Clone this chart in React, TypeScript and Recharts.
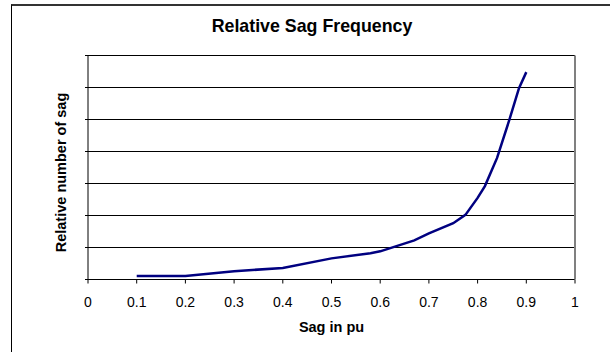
import React from 'react';
import { LineChart, Line, XAxis, YAxis, CartesianGrid } from 'recharts';

const sagPu = [0.1, 0.2, 0.3, 0.4, 0.5, 0.58, 0.6, 0.67, 0.7, 0.75, 0.775, 0.8, 0.815, 0.84, 0.865, 0.885, 0.9];
const relativeCount = [0.11, 0.11, 0.26, 0.36, 0.66, 0.82, 0.88, 1.22, 1.44, 1.76, 2.02, 2.55, 2.92, 3.8, 4.98, 5.98, 6.48];
const xTicks = [0, 0.1, 0.2, 0.3, 0.4, 0.5, 0.6, 0.7, 0.8, 0.9, 1];
const yTicks = [0, 1, 2, 3, 4, 5, 6, 7];
const title = 'Relative Sag Frequency';
const xTitle = 'Sag in pu';
const yTitle = 'Relative number of sag';

const data = sagPu.map((x, i) => ({ x, y: relativeCount[i] }));
const FONT = '"Liberation Sans", Arial, sans-serif';

export default function App() {
  return (
    <div style={{ position: 'absolute', left: 0, top: 0, width: 610, height: 352, background: '#fff', overflow: 'hidden' }}>
      <div style={{ position: 'absolute', left: 11, top: 4, width: 620, height: 360, borderLeft: '1px solid #000', borderTop: '2px solid #333' }} />
      <div style={{ position: 'absolute', left: 0, top: 0 }}>
        <LineChart width={610} height={352} data={data} margin={{ top: 54.5, right: 34, bottom: 32.5, left: 87 }}>
          <CartesianGrid vertical={false} stroke="#000" strokeWidth={1} yAxisId="left" />
          <XAxis
            dataKey="x"
            type="number"
            domain={[0, 1]}
            ticks={xTicks}
            height={40}
            tickSize={4}
            tickMargin={13.5}
            axisLine={{ stroke: '#000' }}
            tickLine={{ stroke: '#000' }}
            tick={{ fill: '#000', fontSize: 14, fontFamily: FONT }}
            interval={0}
          />
          <XAxis
            xAxisId="top"
            orientation="top"
            dataKey="x"
            type="number"
            domain={[0, 1]}
            height={1}
            axisLine={{ stroke: '#000' }}
            tickLine={false}
            tick={false}
          />
          <YAxis
            yAxisId="left"
            type="number"
            domain={[0, 7]}
            ticks={yTicks}
            width={1}
            tickSize={3}
            axisLine={{ stroke: '#000' }}
            tickLine={{ stroke: '#000' }}
            tick={() => <g />}
            interval={0}
          />
          <YAxis
            yAxisId="right"
            orientation="right"
            type="number"
            domain={[0, 7]}
            width={1}
            axisLine={{ stroke: '#808080', strokeWidth: 2 }}
            tickLine={false}
            tick={false}
          />
          <Line yAxisId="left" type="linear" dataKey="y" stroke="#000080" strokeWidth={2.5} dot={false} isAnimationActive={false} />
        </LineChart>
      </div>
      <svg width={610} height={352} style={{ position: 'absolute', left: 0, top: 0, pointerEvents: 'none' }}>
        <text x={312} y={32} textAnchor="middle" fontFamily={FONT} fontWeight="bold" fontSize={17.8} fill="#000">{title}</text>
        <text x={331.5} y={332} textAnchor="middle" fontFamily={FONT} fontWeight="bold" fontSize={14.5} fill="#000">{xTitle}</text>
        <text transform="translate(65.5,172.5) rotate(-90)" textAnchor="middle" fontFamily={FONT} fontWeight="bold" fontSize={14.5} fill="#000">{yTitle}</text>
      </svg>
    </div>
  );
}
